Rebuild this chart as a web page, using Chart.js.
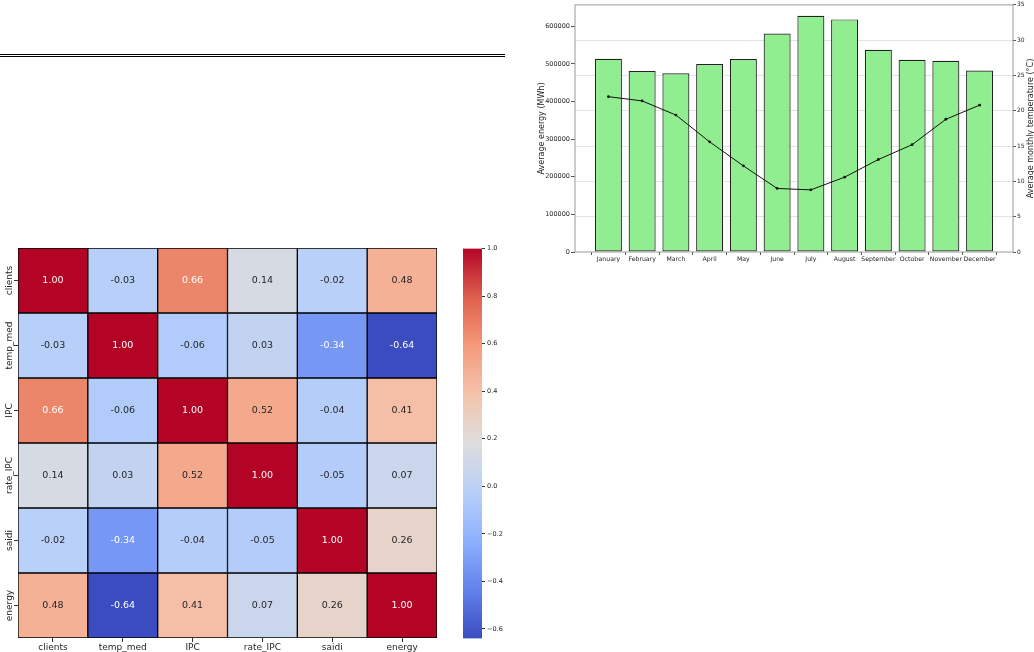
<!DOCTYPE html>
<html>
<head>
<meta charset="utf-8">
<script src="https://cdn.jsdelivr.net/npm/chart.js@4.4.1/dist/chart.umd.min.js"></script>
<style>
  body { margin: 0; background: #fff; width: 1034px; height: 652px; position: relative; overflow: hidden; }
  canvas { position: absolute; }
  #rule { position: absolute; left: 0; top: 54px; width: 505px; height: 1px; border-top: 1px solid #000; border-bottom: 1.3px solid #000; }
</style>
</head>
<body>
<div id="rule"></div>
<canvas id="heat" width="455" height="412" style="left:0px;top:240px"></canvas>
<canvas id="cbar" width="75" height="412" style="left:455px;top:240px"></canvas>
<canvas id="energy" width="514" height="268" style="left:520px;top:0px"></canvas>
<script>
// ---- data ----
let months = ["January","February","March","April","May","June","July","August","September","October","November","December"];
let energy = [513900, 481400, 475300, 499900, 513000, 580700, 628100, 618400, 537600, 511300, 508600, 482300];
let temperature = [22.0, 21.4, 19.4, 15.6, 12.2, 9.0, 8.8, 10.6, 13.1, 15.2, 18.8, 20.8];
let energyTicks = [0, 100000, 200000, 300000, 400000, 500000, 600000];
let tempTicks = [0, 5, 10, 15, 20, 25, 30, 35];

let variables = ["clients","temp_med","IPC","rate_IPC","saidi","energy"];
let corr = [
    [ 1.00, -0.03,  0.66,  0.14, -0.02,  0.48],
    [-0.03,  1.00, -0.06,  0.03, -0.34, -0.64],
    [ 0.66, -0.06,  1.00,  0.52, -0.04,  0.41],
    [ 0.14,  0.03,  0.52,  1.00, -0.05,  0.07],
    [-0.02, -0.34, -0.04, -0.05,  1.00,  0.26],
    [ 0.48, -0.64,  0.41,  0.07,  0.26,  1.00]
];
let cbarTicks = [-0.6, -0.4, -0.2, 0.0, 0.2, 0.4, 0.6, 0.8, 1.0];

const FONT = "DejaVu Sans";
Chart.defaults.font.family = FONT;
Chart.defaults.animation = false;
Chart.defaults.plugins.legend.display = false;
Chart.defaults.plugins.tooltip.enabled = false;

// coolwarm colour map
const cw = [[59,76,192],[98,130,234],[141,176,254],[184,208,249],[221,221,221],
            [245,196,173],[244,154,123],[222,96,77],[180,4,38]];
let vmin = Math.min(...corr.flat()), vmax = 1.0;
let coolwarm = (t) => {
    t = Math.max(0, Math.min(1, t)) * (cw.length - 1);
    let i = Math.min(Math.floor(t), cw.length - 2), f = t - i;
    return cw[i].map((c, k) => Math.round(c + (cw[i+1][k] - c) * f));
};
let cellColor = (v) => {
    let c = coolwarm((v - vmin) / (vmax - vmin));
    return `rgb(${c[0]},${c[1]},${c[2]})`;
};
let textColor = (v) => {
    let c = coolwarm((v - vmin) / (vmax - vmin)).map(x => {
        x /= 255;
        return x <= 0.03928 ? x / 12.92 : Math.pow((x + 0.055) / 1.055, 2.4);
    });
    let lum = 0.2126 * c[0] + 0.7152 * c[1] + 0.0722 * c[2];
    return lum > 0.408 ? "#262626" : "#ffffff";
};

// ---- heatmap ----
let heatLabels = {
    id: 'heatLabels',
    afterDatasetsDraw(chart) {
        const ctx = chart.ctx;
        ctx.save();
        ctx.font = "9.5px " + FONT;
        ctx.textAlign = "center";
        ctx.textBaseline = "middle";
        chart.data.datasets.forEach((ds, i) => {
            chart.getDatasetMeta(i).data.forEach((bar, j) => {
                let v = corr[i][j];
                ctx.fillStyle = textColor(v);
                ctx.fillText(v.toFixed(2), bar.x, (bar.y + bar.base) / 2);
            });
        });
        // row labels, rotated
        const ys = chart.scales.y;
        ctx.fillStyle = "#262626";
        ctx.font = "9px " + FONT;
        variables.forEach((name, i) => {
            ctx.save();
            ctx.translate(10, ys.getPixelForValue(i + 0.5));
            ctx.rotate(-Math.PI / 2);
            ctx.fillText(name, 0, 0);
            ctx.restore();
        });
        ctx.restore();
    }
};

new Chart(document.getElementById('heat'), {
    type: 'bar',
    data: {
        labels: variables,
        datasets: corr.map((row, i) => ({
            data: row.map(() => [i, i + 1]),
            backgroundColor: row.map(cellColor),
            borderColor: '#000',
            borderWidth: 1,
            borderSkipped: false,
            barPercentage: 1,
            categoryPercentage: 1,
            grouped: false
        }))
    },
    options: {
        responsive: false,
        layout: { padding: { top: 8, right: 18, left: 0, bottom: 0 } },
        scales: {
            x: {
                grid: { offset: false, drawOnChartArea: false, tickLength: 4, color: '#333' },
                border: { display: false },
                ticks: { color: '#262626', font: { size: 9 }, padding: 0, maxRotation: 0 },
                afterFit: (s) => { s.height = 14; }
            },
            y: {
                type: 'linear', min: 0, max: 6, reverse: true,
                afterBuildTicks: (s) => { s.ticks = variables.map((v, i) => ({ value: i + 0.5 })); },
                grid: { drawOnChartArea: false, tickLength: 4, color: '#333' },
                border: { display: false },
                ticks: { display: false },
                afterFit: (s) => { s.width = 18; }
            }
        }
    },
    plugins: [heatLabels]
});

// ---- colour bar ----
new Chart(document.getElementById('cbar'), {
    type: 'bar',
    data: {
        labels: ['r'],
        datasets: [{
            data: [[vmin, vmax]],
            backgroundColor: (c) => {
                const ch = c.chart, y = ch.scales.y;
                if (!y || !ch.chartArea) return '#ddd';
                const g = ch.ctx.createLinearGradient(0, y.getPixelForValue(vmin), 0, y.getPixelForValue(vmax));
                cw.forEach((col, k) => g.addColorStop(k / (cw.length - 1), `rgb(${col[0]},${col[1]},${col[2]})`));
                return g;
            },
            borderWidth: 0,
            barPercentage: 1,
            categoryPercentage: 1
        }]
    },
    options: {
        responsive: false,
        layout: { padding: { top: 8.5, left: 8, right: 0, bottom: 13.5 } },
        scales: {
            x: { display: false },
            y: {
                position: 'right', min: vmin, max: vmax,
                afterBuildTicks: (s) => { s.ticks = cbarTicks.map(v => ({ value: v })); },
                grid: { drawOnChartArea: false, tickLength: 3, color: '#333' },
                border: { display: false },
                ticks: {
                    color: '#262626', font: { size: 6.5 }, padding: 2,
                    callback: (v) => v.toFixed(1).replace('-', '\u2212')
                },
                afterFit: (s) => { s.width = 48; }
            }
        }
    }
});

// ---- energy / temperature chart ----
let frame = {
    id: 'frame',
    afterDraw(chart) {
        const { ctx, chartArea: a } = chart;
        ctx.save();
        ctx.strokeStyle = '#9a9a9a';
        ctx.lineWidth = 1;
        ctx.strokeRect(a.left, a.top, a.right - a.left, a.bottom - a.top);
        ctx.fillStyle = '#262626';
        ctx.font = "8px " + FONT;
        ctx.textAlign = 'center';
        ctx.textBaseline = 'middle';
        ctx.translate(510.5, (a.top + a.bottom) / 2);
        ctx.rotate(-Math.PI / 2);
        ctx.fillText('Average monthly temperature (\u00b0C)', 0, 0);
        ctx.restore();
    }
};

new Chart(document.getElementById('energy'), {
    type: 'bar',
    data: {
        datasets: [{
            type: 'line',
            yAxisID: 'y1',
            data: temperature.map((t, i) => ({ x: i, y: t })),
            borderColor: '#111',
            borderWidth: 1,
            pointRadius: 1.4,
            pointBackgroundColor: '#111',
            pointBorderWidth: 0,
            tension: 0
        }, {
            yAxisID: 'y',
            data: energy.map((e, i) => ({ x: i, y: e })),
            backgroundColor: '#90ee90',
            borderColor: '#222',
            borderWidth: 1.2,
            borderSkipped: false,
            barPercentage: 0.8,
            categoryPercentage: 1
        }]
    },
    options: {
        responsive: false,
        layout: { padding: { top: 0, left: 0, right: 0, bottom: 0 } },
        scales: {
            x: {
                type: 'linear', min: -0.99, max: 11.99, offset: false,
                afterBuildTicks: (s) => { s.ticks = months.map((m, i) => ({ value: i })); },
                grid: { drawOnChartArea: false, tickLength: 3, color: '#555' },
                border: { display: false },
                ticks: { color: '#262626', font: { size: 6.2 }, padding: 1, maxRotation: 0, autoSkip: false,
                         callback: (v) => months[v] },
                afterFit: (s) => { s.height = 16; }
            },
            y: {
                position: 'left', min: 0, max: 657000,
                afterBuildTicks: (s) => { s.ticks = energyTicks.map(v => ({ value: v })); },
                grid: { drawOnChartArea: false, tickLength: 4, color: '#555' },
                border: { display: false },
                ticks: { color: '#262626', font: { size: 6.5 }, padding: 1, callback: (v) => String(v) },
                title: { display: true, text: 'Average energy (MWh)', color: '#262626', font: { size: 8 },
                         padding: { top: 17, bottom: 0 } },
                afterFit: (s) => { s.width = 55; }
            },
            y1: {
                position: 'right', min: 0, max: 35,
                afterBuildTicks: (s) => { s.ticks = tempTicks.map(v => ({ value: v })); },
                grid: {
                    drawOnChartArea: true, tickLength: 3,
                    color: (c) => (c.tick && (c.tick.value === 0 || c.tick.value === 35)) ? 'rgba(0,0,0,0)' : '#e4e4e4',
                    tickColor: '#555'
                },
                border: { display: false },
                ticks: { color: '#262626', font: { size: 6 }, padding: 1, callback: (v) => String(v) },
                afterFit: (s) => { s.width = 21; }
            }
        }
    },
    plugins: [frame]
});
</script>
</body>
</html>
